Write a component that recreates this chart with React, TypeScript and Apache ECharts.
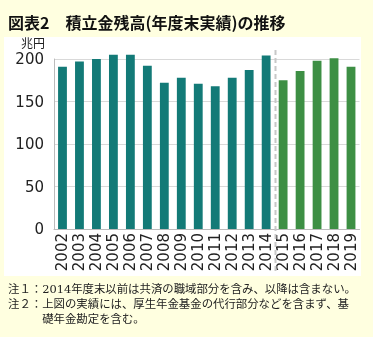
import React, { useEffect, useRef } from "react";
import * as echarts from "echarts";

const years = ["2002","2003","2004","2005","2006","2007","2008","2009","2010","2011","2012","2013","2014","2015","2016","2017","2018","2019"];
const reserves = [191, 197, 200, 205, 205, 192, 172, 178, 171, 168, 178, 187, 204, 175, 186, 198, 201, 191];
const splitAfterYear = "2014";
const yTicks = [0, 50, 100, 150, 200];
const title = "図表2　積立金残高(年度末実績)の推移";
const unit = "兆円";
const notes = [
  "注１：2014年度末以前は共済の職域部分を含み、以降は含まない。",
  "注２：上図の実績には、厚生年金基金の代行部分などを含まず、基",
  "　　　礎年金勘定を含む。",
];

const TEAL = "#137a77";
const GREEN = "#3d8f44";

export default function App() {
  const ref = useRef<HTMLDivElement>(null);
  useEffect(() => {
    if (!ref.current) return;
    const chart = echarts.init(ref.current, null, { renderer: "svg" });
    const splitIdx = years.indexOf(splitAfterYear);
    const baseGraphic: any[] = [
      { type: "rect", z: -10, shape: { x: 0, y: 0, width: 373, height: 337 }, style: { fill: "#ffffe0" } },
      { type: "rect", z: -9, shape: { x: 4, y: 37, width: 357, height: 239 }, style: { fill: "#ffffff" } },
      {
        type: "text", left: 8, top: 14,
        style: { text: title, fontSize: 16, fontWeight: "bold", fill: "#111", fontFamily: "'Noto Sans CJK JP', sans-serif" },
      },
      {
        type: "text", x: 45, y: 42,
        style: { text: unit, fontSize: 12, fill: "#222", align: "right", verticalAlign: "middle", fontFamily: "'Noto Sans CJK JP', sans-serif" },
      },
      ...notes.map((t, i) => ({
        type: "text", x: 8, y: 289 + i * 15,
        style: { text: t, fontSize: 11.4, fill: "#222", verticalAlign: "middle", fontFamily: "'DejaVu Serif', 'Noto Sans CJK JP', serif" },
      })),
    ];
    chart.setOption({
      animation: false,
      grid: { left: 54, right: 13.5, top: 59, bottom: 108 },
      xAxis: {
        type: "category",
        data: years,
        axisLine: { lineStyle: { color: "#bbbbbb" } },
        axisTick: { show: false },
        axisLabel: { rotate: 90, fontSize: 15, color: "#222", margin: 4, interval: 0, fontFamily: "'DejaVu Sans', sans-serif" },
      },
      yAxis: {
        type: "value",
        min: yTicks[0],
        max: yTicks[yTicks.length - 1],
        interval: 50,
        axisLine: { show: true, lineStyle: { color: "#bbbbbb" } },
        axisTick: { show: false },
        splitLine: { lineStyle: { color: "#d9d9d9" } },
        axisLabel: { fontSize: 15, color: "#222", margin: 10, verticalAlign: "middle", fontFamily: "'DejaVu Sans', sans-serif" },
      },
      series: [
        {
          type: "bar",
          barWidth: "52%",
          clip: false,
          data: reserves.map((v, i) => ({ value: v, itemStyle: { color: i <= splitIdx ? TEAL : GREEN } })),
        },
      ],
      graphic: baseGraphic,
    });
    const x1 = chart.convertToPixel({ xAxisIndex: 0 }, years[splitIdx]) as number;
    const x2 = chart.convertToPixel({ xAxisIndex: 0 }, years[splitIdx + 1]) as number;
    const xm = Math.round((x1 + x2) / 2) + 0.5;
    chart.setOption({
      graphic: [
        ...baseGraphic,
        {
          type: "line", z: 10,
          shape: { x1: xm, y1: 50, x2: xm, y2: 273 },
          style: { stroke: "#c8c8c8", lineWidth: 2, lineDash: [5, 3] },
        },
      ],
    });
    return () => chart.dispose();
  }, []);
  return <div ref={ref} style={{ position: "fixed", left: 0, top: 0, width: 373, height: 337 }} />;
}
